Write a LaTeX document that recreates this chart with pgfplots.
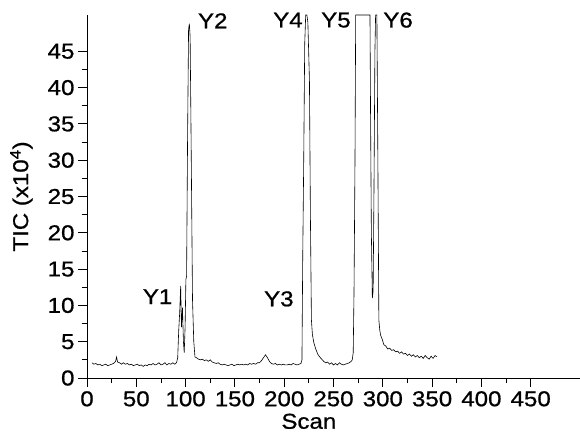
\documentclass[border=0pt]{standalone}
\usepackage{fontspec}
\setmainfont{Liberation Sans}[FakeStretch=1.12, FakeBold=0.8]
\usepackage{pgfplots}
\pgfplotsset{compat=1.18}

\begin{document}
\begin{tikzpicture}
\begin{axis}[
  at={(0,0)}, anchor=south west,
  scale only axis,
  width=493pt, height=363pt,
  xmin=0, xmax=500, ymin=0, ymax=50,
  axis lines=left,
  axis line style={-, line width=0.9pt},
  xtick={0,50,...,450},
  ytick={0,5,...,45},
  minor x tick num=1,
  minor y tick num=1,
  tick align=outside,
  major tick length=9pt,
  minor tick length=5pt,
  tick style={black, line width=0.9pt},
  /pgf/number format/assume math mode=true,
  tick label style={font=\fontsize{21.5}{24}\selectfont},
  xticklabel style={inner sep=0pt, yshift=-4pt},
  label style={font=\fontsize{21.5}{24}\selectfont},
  xlabel={Scan},
  xlabel style={at={(axis description cs:0.45,0)}, anchor=north, inner sep=0pt, yshift=-35.5pt},
  ylabel={TIC (x10\textsuperscript{4})},
  ylabel style={at={(axis description cs:-0.11,0.5)}, anchor=south, inner sep=0pt},
  clip=false,
]
\addplot[black, line width=0.6pt] coordinates {
(5,2.1)(7,1.9)(9,2.0)(11,1.8)(13,1.9)(15,1.7)(17,1.8)(19,1.9)(21,1.7)(23,1.8)
(25,1.9)(27,2.0)(29,2.3)(30,2.9)(31,2.2)(33,2.1)(35,1.9)(37,2.1)(39,1.9)(41,2.0)
(43,1.8)(45,1.9)(47,1.7)(49,1.8)(51,1.9)(53,1.7)(55,1.8)(57,1.6)(59,1.8)(61,1.7)
(63,1.9)(65,1.8)(67,2.0)(69,1.8)(71,1.9)(73,2.1)(75,1.8)(77,1.9)(79,2.1)(81,1.8)
(83,2.0)(85,1.9)(87,2.1)(89,1.9)(90,2.0)
(91,2.2)(92,2.8)(93,6.5)(94,9.0)(95,12.7)(95.8,7.0)(96.8,9.7)(97.8,5.0)(98.6,3.5)
(99.5,7.0)(100.3,13.6)(101,14.0)(102,33.0)(103,48.0)(103.8,48.8)(104.6,47.0)
(105.6,32.6)(107,10.8)(108.3,5.0)(109.5,2.9)(111,2.8)
(113,2.6)(115,2.5)(117,2.6)(119,2.4)(121,2.5)(123,2.3)(125,2.5)(127,2.2)(129,2.1)
(131,2.0)(133,2.1)(135,1.9)(137,1.8)(139,1.9)(141,1.8)(143,1.7)(145,1.8)(147,1.9)
(149,1.7)(151,1.8)(153,1.9)(155,1.8)(157,1.9)(159,1.8)(161,1.9)(163,1.8)(165,2.0)
(167,1.9)(169,2.0)(171,1.9)(173,2.1)(175,2.1)(177,2.4)(179,2.8)(181,3.2)(183,2.8)
(185,2.3)(187,2.0)(189,1.9)(191,2.0)(193,1.8)(195,1.9)(197,1.8)(199,1.9)(201,1.8)
(203,1.8)(205,1.9)(207,1.8)(209,2.0)(211,1.9)(213,1.8)(215,1.9)(217,2.0)
(218,2.5)(218.8,16.8)(219.8,30)(220.8,46)(221.8,50)(223,50)(224,49)(224.8,45)(225.6,41)
(226.6,22)(227.6,8)(228.6,6)(230,4.9)(232,4.0)(234,3.3)(236,2.9)(238,2.6)(240,2.3)
(242,2.1)(244,2.2)(246,1.9)(248,2.1)(250,1.8)(252,2.0)(254,1.8)(256,2.1)(258,1.9)
(260,1.8)(262,1.9)(264,2.0)(266,2.1)(268,2.3)
(269,2.5)(270,3.5)(270.8,11.8)(271.8,30)(272.5,50)(287,50)(287.6,35.8)(288.4,20)
(289.4,11.0)(290.2,12.0)(291,25)(292,45)(292.7,50)(294,50)(295,30)(296,8.0)
(297,6.5)(298,5.8)(299.5,5.3)(301,4.6)(303,4.4)(305,4.0)(307,4.1)(309,3.8)
(311,3.9)(313,3.6)(315,3.7)(317,3.4)(319,3.6)(321,3.3)(323,3.4)(325,3.1)(327,3.3)
(329,3.0)(331,3.2)(333,2.9)(335,3.1)(337,2.8)(339,3.0)(341,2.7)(343,3.1)(345,2.8)
(347,2.6)(349,3.0)(351,2.7)(353,3.1)(355,2.9)
};
\draw[line width=0.9pt] (axis cs:-9,0) -- (axis cs:0,0);
\draw[line width=0.9pt] (axis cs:0,0) -- (axis cs:0,-0.7);
\begin{scope}[every node/.style={font=\fontsize{21.5}{24}\selectfont, inner sep=0pt}]
\node at (axis cs:71.6,11.2) {Y1};
\node at (axis cs:127.5,49.2) {Y2};
\node at (axis cs:194.6,10.9) {Y3};
\node at (axis cs:203.8,49.3) {Y4};
\node at (axis cs:252.5,49.3) {Y5};
\node at (axis cs:315.5,49.3) {Y6};
\end{scope}
\end{axis}
\pgfresetboundingbox
\path (-87pt,-54pt) rectangle (493pt,378pt);
\end{tikzpicture}
\end{document}
